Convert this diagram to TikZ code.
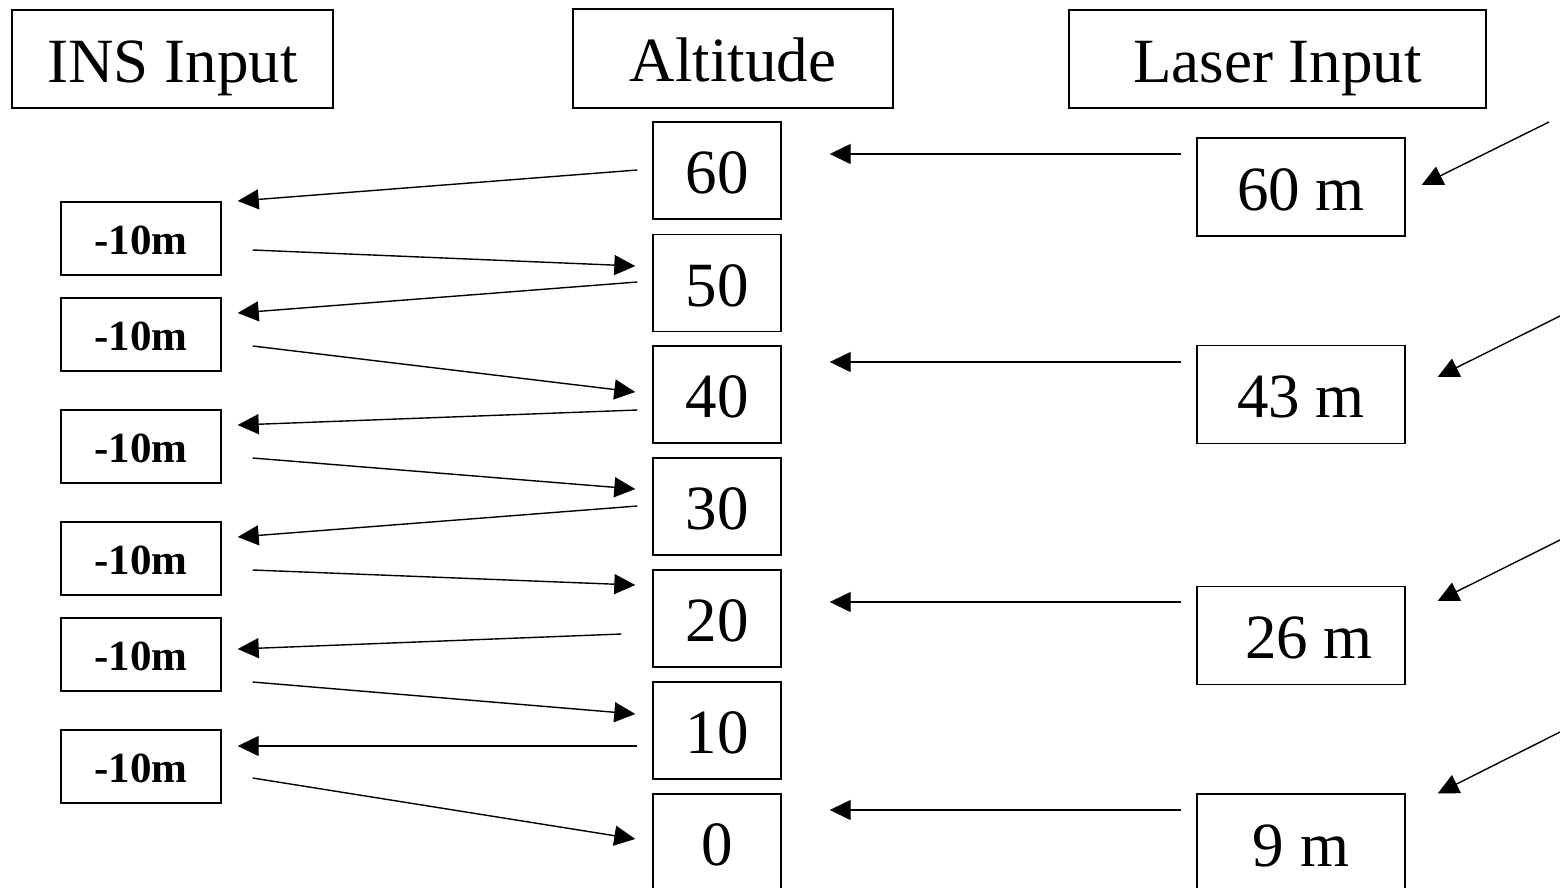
\documentclass[tikz,border=0pt]{standalone}
\usepackage{fontspec}
\setmainfont{Liberation Serif}
\usetikzlibrary{arrows.meta,calc}
\begin{document}
\begin{tikzpicture}[x=1pt,y=-1pt,
  box/.style={draw,line width=1.4pt,inner sep=0pt,font=\fontsize{63}{70}\selectfont,text height=46.5pt,text depth=0pt},
  val/.style={box,minimum width=128pt,minimum height=97pt},
  lbox/.style={box,minimum width=208pt,minimum height=98pt},
  small/.style={draw,line width=1.4pt,inner sep=0pt,minimum width=160pt,minimum height=73pt,font=\fontsize{43}{50}\selectfont\bfseries,text height=31pt,text depth=0pt},
  arr/.style={line width=1.4pt,-{Triangle[length=21pt,width=20pt]}}]
\useasboundingbox (0,0) rectangle (1560,887);
\clip (0,0) rectangle (1560,887);
% headers
\node[box,minimum width=321pt,minimum height=98pt] (ins) at (172.5,59) {INS Input};
\node[box,minimum width=320pt,minimum height=99pt] (alt) at (733,58.5) {Altitude};
\node[box,minimum width=417pt,minimum height=98pt] (las) at (1277.5,59) {Laser Input};
% altitude values
\node[val] (a60) at (717,170.5) {60};
\node[val] (a50) at (717,283) {50};
\node[val] (a40) at (717,394.5) {40};
\node[val] (a30) at (717,506.5) {30};
\node[val] (a20) at (717,618.5) {20};
\node[val] (a10) at (717,730.5) {10};
\node[val] (a0) at (717,842.5) {0};
% laser values
\node[lbox] (l60) at (1301,187) {60 m};
\node[lbox] (l43) at (1301,394.5) {43 m};
\node[lbox] (l26) at (1301,635.5) {\kern16pt 26 m};
\node[lbox] (l9) at (1301,843) {9 m};
% INS steps
\node[small] (m1) at (141,238.5) {-10m};
\node[small] (m2) at (141,334.5) {-10m};
\node[small] (m3) at (141,446.5) {-10m};
\node[small] (m4) at (141,558.5) {-10m};
\node[small] (m5) at (141,654.5) {-10m};
\node[small] (m6) at (141,766.5) {-10m};
% INS arrows
\draw[arr] ($(a60.west)+(-15,-0.5)$) -- ($(m1.east)+(16,-37.5)$);
\draw[arr] ($(m1.east)+(31,11.5)$) -- ($(a50.west)+(-17,-17)$);
\draw[arr] ($(a50.west)+(-15,-1)$) -- ($(m2.east)+(16,-21.5)$);
\draw[arr] ($(m2.east)+(31,11.5)$) -- ($(a40.west)+(-17,-2.5)$);
\draw[arr] ($(a40.west)+(-15,15.5)$) -- ($(m3.east)+(16,-21.5)$);
\draw[arr] ($(m3.east)+(31,11.5)$) -- ($(a30.west)+(-17,-17.5)$);
\draw[arr] ($(a30.west)+(-15,-0.5)$) -- ($(m4.east)+(16,-21.5)$);
\draw[arr] ($(m4.east)+(31,11.5)$) -- ($(a20.west)+(-17,-33.5)$);
\draw[arr] ($(a20.west)+(-31,15.5)$) -- ($(m5.east)+(16,-5.5)$);
\draw[arr] ($(m5.east)+(31,27.5)$) -- ($(a10.west)+(-17,-16.5)$);
\draw[arr] ($(a10.west)+(-15,15.5)$) -- ($(m6.east)+(16,-20.5)$);
\draw[arr] ($(m6.east)+(31,11.5)$) -- ($(a0.west)+(-17,-3.5)$);
% laser arrows
\draw[arr] ($(l60.west)+(-15,-33)$) -- ($(a60.east)+(48,-16.5)$);
\draw[arr] ($(l43.west)+(-15,-32.5)$) -- ($(a40.east)+(48,-32.5)$);
\draw[arr] ($(l26.west)+(-15,-33.5)$) -- ($(a20.east)+(48,-16.5)$);
\draw[arr] ($(l9.west)+(-15,-33)$) -- ($(a0.east)+(48,-32.5)$);
% incoming laser readings
\coordinate (d1) at (1549,122);
\coordinate (d2) at (1570,311);
\coordinate (d3) at (1570,535);
\coordinate (d4) at (1570,727);
\draw[arr] (d1) -- ($(l60.east)+(16,-2)$);
\draw[arr] (d2) -- ($(l43.east)+(32,-17.5)$);
\draw[arr] (d3) -- ($(l26.east)+(32,-34.5)$);
\draw[arr] (d4) -- ($(l9.east)+(32,-49.5)$);
\end{tikzpicture}
\end{document}
